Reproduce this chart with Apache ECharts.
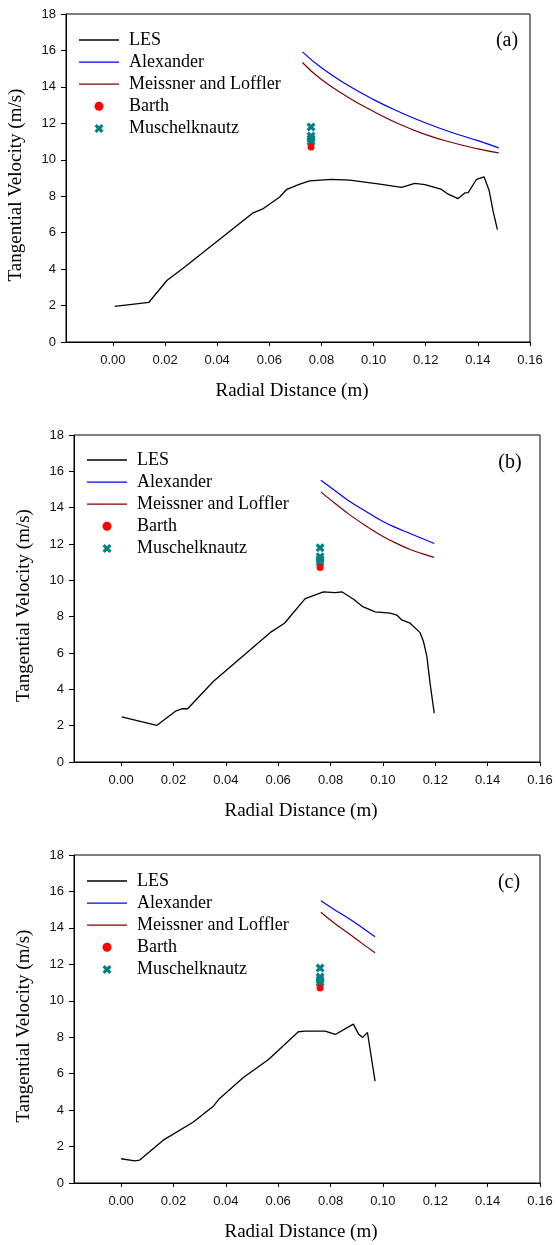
<!DOCTYPE html>
<html>
<head>
<meta charset="utf-8">
<script src="https://cdn.jsdelivr.net/npm/echarts@6/dist/echarts.min.js"></script>
<style>
html,body{margin:0;padding:0;background:#fff;}
#chart{width:556px;height:1245px;}
</style>
</head>
<body>
<div id="chart"></div>
<script>
// ---------- data ----------
const xTickValues = [0, 0.02, 0.04, 0.06, 0.08, 0.10, 0.12, 0.14, 0.16];
const panelLabels = ['(a)', '(b)', '(c)'];
const seriesNames = ['LES', 'Alexander', 'Meissner and Loffler', 'Barth', 'Muschelknautz'];

// Panel (a)
const lesAX = [0.0007, 0.0138, 0.0208, 0.0268, 0.0538, 0.0573, 0.0640, 0.0667, 0.0717, 0.0755, 0.0839, 0.0909, 0.1024, 0.1107, 0.1158, 0.1197, 0.1261, 0.1286, 0.1324, 0.1350, 0.1363, 0.1395, 0.1424, 0.1443, 0.1459, 0.1475];
const lesAY = [1.96, 2.18, 3.39, 4.03, 7.09, 7.29, 7.96, 8.38, 8.66, 8.84, 8.93, 8.88, 8.66, 8.48, 8.70, 8.64, 8.37, 8.11, 7.87, 8.18, 8.20, 8.93, 9.06, 8.33, 7.14, 6.17];
const alexAX = [0.0727, 0.080, 0.090, 0.100, 0.110, 0.120, 0.130, 0.140, 0.148];
const alexAY = [15.92, 15.05, 14.10, 13.30, 12.62, 12.02, 11.50, 11.05, 10.65];
const meisAX = [0.0727, 0.080, 0.090, 0.100, 0.110, 0.120, 0.130, 0.140, 0.148];
const meisAY = [15.34, 14.40, 13.45, 12.65, 11.95, 11.38, 10.95, 10.60, 10.38];

// Panel (b)
const lesBX = [0.0002, 0.0136, 0.0210, 0.0232, 0.0254, 0.0352, 0.0569, 0.0624, 0.0703, 0.0773, 0.0818, 0.0843, 0.0888, 0.0923, 0.0970, 0.1028, 0.1053, 0.1072, 0.1104, 0.1142, 0.1155, 0.1168, 0.1180, 0.1196];
const lesBY = [2.49, 2.01, 2.82, 2.93, 2.93, 4.43, 7.12, 7.64, 8.99, 9.37, 9.32, 9.37, 8.96, 8.55, 8.26, 8.19, 8.09, 7.82, 7.64, 7.12, 6.63, 5.80, 4.34, 2.69];
const alexBX = [0.0763, 0.0820, 0.0875, 0.0940, 0.1002, 0.1050, 0.1104, 0.1150, 0.1196];
const alexBY = [15.51, 14.90, 14.32, 13.75, 13.22, 12.90, 12.58, 12.30, 12.03];
const meisBX = [0.0763, 0.0820, 0.0875, 0.0940, 0.1002, 0.1050, 0.1104, 0.1150, 0.1196];
const meisBY = [14.87, 14.20, 13.59, 12.95, 12.40, 12.05, 11.70, 11.47, 11.26];

// Panel (c)
const lesCX = [0.0, 0.0052, 0.0070, 0.0161, 0.0276, 0.0352, 0.0372, 0.0467, 0.0563, 0.0677, 0.0703, 0.0779, 0.0818, 0.0887, 0.0907, 0.0923, 0.0941, 0.0970];
const lesCY = [1.33, 1.21, 1.25, 2.35, 3.35, 4.21, 4.58, 5.79, 6.78, 8.30, 8.34, 8.34, 8.15, 8.72, 8.17, 7.99, 8.26, 5.59];
const alexCX = [0.0763, 0.0815, 0.0868, 0.0920, 0.0970];
const alexCY = [15.49, 15.00, 14.53, 14.02, 13.52];
const meisCX = [0.0763, 0.0815, 0.0868, 0.0920, 0.0970];
const meisCY = [14.86, 14.25, 13.70, 13.15, 12.64];

// Correlation points (same in all panels)
const barthX = [0.076];
const barthY = [10.7];
const muschX = [0.076, 0.076, 0.076, 0.076];
const muschY = [11.8, 11.3, 11.15, 11.0];

// ---------- chart ----------
const zip = (xs, ys) => xs.map((x, i) => [x, ys[i]]);
const SANS = '"Liberation Sans", Arial, sans-serif';
const SERIF = '"Liberation Serif", "Times New Roman", serif';
const xMark = 'path://M0,2.5 L2.5,0 L5,2.5 L7.5,0 L10,2.5 L7.5,5 L10,7.5 L7.5,10 L5,7.5 L2.5,10 L0,7.5 L2.5,5 Z';
const lineIcon = 'path://M0,0 L40,0 L40,1.3 L0,1.3 Z';

const panels = [
  {les: zip(lesAX, lesAY), alex: zip(alexAX, alexAY), meis: zip(meisAX, meisAY)},
  {les: zip(lesBX, lesBY), alex: zip(alexBX, alexBY), meis: zip(meisBX, meisBY)},
  {les: zip(lesCX, lesCY), alex: zip(alexCX, alexCY), meis: zip(meisCX, meisCY)}
];

const grids = [
  {left: 66, top: 14, width: 464, height: 328},
  {left: 74, top: 435, width: 466, height: 327},
  {left: 74, top: 855, width: 466, height: 328}
];
const legendPos = [
  {left: 79, top: 31},
  {left: 87, top: 451},
  {left: 87, top: 872}
];
const labelPos = [[507, 41], [510, 463], [509, 883]];

const legendData = [
  {name: 'LES', icon: lineIcon},
  {name: 'Alexander', icon: lineIcon},
  {name: 'Meissner and Loffler', icon: lineIcon},
  {name: 'Barth', icon: 'circle'},
  {name: 'Muschelknautz', icon: xMark}
];

const option = {
  backgroundColor: '#fff',
  animation: false,
  grid: grids.map(g => Object.assign({
    show: true, borderColor: '#000', borderWidth: 1,
    backgroundColor: 'transparent', containLabel: false, outerBoundsMode: 'none'
  }, g)),
  xAxis: grids.map((g, i) => ({
    type: 'value', gridIndex: i, min: -0.018, max: 0.16,
    name: 'Radial Distance (m)', nameLocation: 'middle', nameGap: 40,
    nameTextStyle: {fontFamily: SERIF, fontSize: 19, color: '#000', padding: [0, 12, 0, 0]},
    axisLine: {show: true, onZero: false, lineStyle: {color: '#000', width: 1}},
    axisTick: {show: true, inside: false, length: 4, customValues: xTickValues, lineStyle: {color: '#000'}},
    axisLabel: {customValues: xTickValues, margin: 12, fontFamily: SANS, fontSize: 13, color: '#111',
      formatter: v => v.toFixed(2)},
    splitLine: {show: false}
  })),
  yAxis: grids.map((g, i) => ({
    type: 'value', gridIndex: i, min: 0, max: 18, interval: 2,
    name: 'Tangential Velocity (m/s)', nameLocation: 'middle', nameGap: 40,
    nameTextStyle: {fontFamily: SERIF, fontSize: 19, color: '#000', padding: [0, 14, 0, 0]},
    axisLine: {show: true, onZero: false, lineStyle: {color: '#000', width: 1}},
    axisTick: {show: true, inside: false, length: 5, lineStyle: {color: '#000'}},
    axisLabel: {margin: 10, fontFamily: SANS, fontSize: 13, color: '#111'},
    splitLine: {show: false}
  })),
  legend: legendPos.map(p => ({
    left: p.left, top: p.top, orient: 'vertical', padding: 0,
    itemWidth: 40, itemHeight: 9, itemGap: 4.1,
    data: legendData,
    selectedMode: false,
    textStyle: {fontFamily: SERIF, fontSize: 18, lineHeight: 18, color: '#000', padding: [0, 0, 0, 5]}
  })),
  graphic: labelPos.map((p, i) => ({
    type: 'text', x: p[0], y: p[1],
    style: {text: panelLabels[i], fontFamily: SERIF, fontSize: 20, fill: '#000',
      textAlign: 'center', textVerticalAlign: 'middle'}
  })),
  series: []
};

panels.forEach((p, i) => {
  option.series.push(
    {name: 'LES', type: 'line', xAxisIndex: i, yAxisIndex: i, data: p.les,
      symbol: 'none', lineStyle: {color: '#000', width: 1.3}, itemStyle: {color: '#000'}},
    {name: 'Alexander', type: 'line', xAxisIndex: i, yAxisIndex: i, data: p.alex, smooth: true,
      symbol: 'none', lineStyle: {color: '#0000ff', width: 1.2}, itemStyle: {color: '#0000ff'}},
    {name: 'Meissner and Loffler', type: 'line', xAxisIndex: i, yAxisIndex: i, data: p.meis, smooth: true,
      symbol: 'none', lineStyle: {color: '#800000', width: 1.2}, itemStyle: {color: '#800000'}},
    {name: 'Muschelknautz', type: 'scatter', xAxisIndex: i, yAxisIndex: i, data: zip(muschX, muschY),
      symbol: xMark, symbolSize: 9, itemStyle: {color: '#008080', opacity: 1}},
    {name: 'Barth', type: 'scatter', xAxisIndex: i, yAxisIndex: i, data: zip(barthX, barthY),
      symbol: 'circle', symbolSize: 7, itemStyle: {color: '#ff0000', opacity: 1}}
  );
});

const chart = echarts.init(document.getElementById('chart'), null, {renderer: 'canvas'});
chart.setOption(option);
</script>
</body>
</html>
